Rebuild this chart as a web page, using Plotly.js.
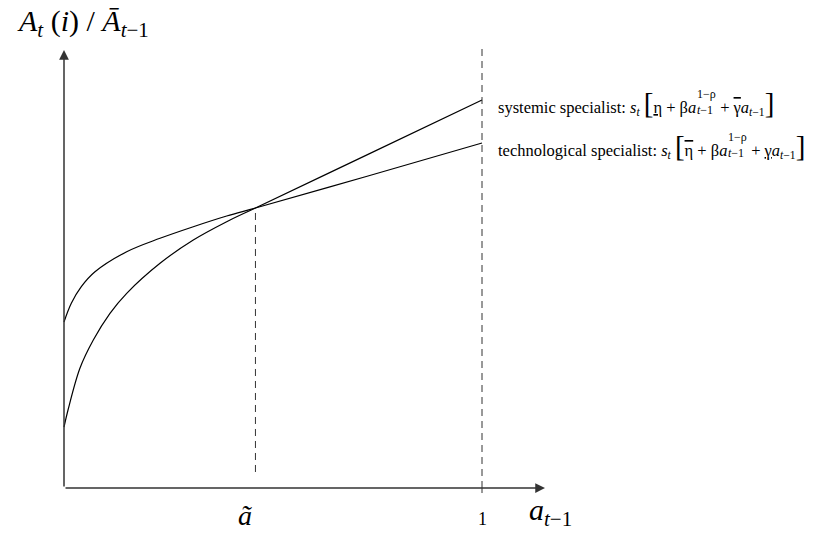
<!DOCTYPE html>
<html>
<head>
<meta charset="utf-8">
<script src="https://cdn.plot.ly/plotly-3.0.1.min.js"></script>
<style>html,body{margin:0;padding:0;background:#fff;}</style>
</head>
<body>
<div id="chart" style="width:820px;height:533px;"></div>
<script>
// ---- data (x in units of a_{t-1}, y relative) ----
const aTilde = 0.458;
const xOne = 1.0;
const techX = [0, 0.0175, 0.0414, 0.0734, 0.150, 0.2297, 0.3093, 0.3892, 0.458, 0.7273, 1.0];
const techY = [0.3971, 0.4419, 0.4816, 0.5167, 0.5653, 0.5974, 0.6251, 0.6507, 0.6699, 0.7464, 0.8254];
const sysX = [0, 0.0096, 0.0383, 0.0701, 0.110, 0.150, 0.2297, 0.3093, 0.3892, 0.458, 0.7273, 1.0];
const sysY = [0.1459, 0.1866, 0.2871, 0.3541, 0.4179, 0.4658, 0.5376, 0.5933, 0.6371, 0.6699, 0.7981, 0.9282];
const xTip = 1.1507, yTip = 1.0478;
const oneTop = 1.0598;
const aTildeBottom = 0.0383;
const seriesLabels = ['systemic specialist:', 'technological specialist:'];

const PX = 418; // pixels per data unit
const serif = "'Liberation Serif', 'Times New Roman', serif";

const traces = [
  {x: sysX, y: sysY, mode: 'lines', line: {color: '#000', width: 1.2, shape: 'spline', smoothing: 1}, hoverinfo: 'skip'},
  {x: techX, y: techY, mode: 'lines', line: {color: '#000', width: 1.2, shape: 'spline', smoothing: 1}, hoverinfo: 'skip'}
];

const shapes = [
  {type: 'line', xref: 'x', yref: 'y', x0: xOne, x1: xOne, y0: 0, y1: oneTop, line: {color: '#333', width: 1, dash: '7px,5px'}},
  {type: 'line', xref: 'x', yref: 'y', x0: xOne, x1: xOne, y0: -0.012, y1: 0, line: {color: '#333', width: 1}},
  {type: 'line', xref: 'x', yref: 'y', x0: aTilde, x1: aTilde, y0: aTildeBottom, y1: techY[8], line: {color: '#333', width: 1, dash: '7px,5px'}}
];

const annotations = [
  {x: xTip, y: 0, ax: 0, ay: 0, axref: 'x', ayref: 'y', xref: 'x', yref: 'y', text: '', showarrow: true, arrowhead: 2, arrowsize: 1.3, arrowwidth: 1.5, arrowcolor: '#333'},
  {x: 0, y: yTip, ax: 0, ay: 0, axref: 'x', ayref: 'y', xref: 'x', yref: 'y', text: '', showarrow: true, arrowhead: 2, arrowsize: 1.3, arrowwidth: 1.5, arrowcolor: '#333'},
  {x: 0.046, y: 1.112, xref: 'x', yref: 'y', showarrow: false, text: '<i>A<sub>t</sub></i> (<i>i</i>) / <i>Ā<sub>t</sub></i><sub>−1</sub>', font: {family: serif, size: 30, color: '#000'}},
  {x: 0.433, y: -0.066, xref: 'x', yref: 'y', showarrow: false, text: '<i>ã</i>', font: {family: serif, size: 28, color: '#000'}},
  {x: xOne, y: -0.075, xref: 'x', yref: 'y', showarrow: false, text: '1', font: {family: serif, size: 18, color: '#000'}},
  {x: 1.164, y: -0.058, xref: 'x', yref: 'y', showarrow: false, text: '<i>a<sub>t</sub></i><sub>−1</sub>', font: {family: serif, size: 30, color: '#000'}}
];

// formula pieces: main part, stacked sup, stacked sub, rest
const fx0 = (497 - 64) / PX;
const lineY = [(488 - 103) / PX, (488 - 146) / PX];
const OV = '<span style="text-decoration:overline">';
const mains = [
  seriesLabels[0] + ' <i>s<sub>t</sub></i> <span style="font-size:29px">[</span><u>η</u> + β<i>a</i>',
  seriesLabels[1] + ' <i>s<sub>t</sub></i> <span style="font-size:29px">[</span>' + OV + 'η</span> + β<i>a</i>'
];
const rests = [
  ' + ' + OV + 'γ</span><i>a<sub>t</sub></i><sub>−1</sub><span style="font-size:29px">]</span>',
  ' + <u>γ</u><i>a<sub>t</sub></i><sub>−1</sub><span style="font-size:29px">]</span>'
];
const pieceIdx = [];
for (let k = 0; k < 2; k++) {
  const base = annotations.length;
  pieceIdx.push(base);
  annotations.push({x: fx0, y: lineY[k], xref: 'x', yref: 'y', xanchor: 'left', showarrow: false, borderpad: 0, text: mains[k], font: {family: serif, size: 16.5, color: '#000'}});
  annotations.push({x: fx0, y: lineY[k] + 9.5 / PX, xref: 'x', yref: 'y', xanchor: 'left', showarrow: false, borderpad: 0, text: '1−ρ', font: {family: serif, size: 12, color: '#000'}});
  annotations.push({x: fx0, y: lineY[k] - 6.5 / PX, xref: 'x', yref: 'y', xanchor: 'left', showarrow: false, borderpad: 0, text: '<i>t</i>−1', font: {family: serif, size: 12, color: '#000'}});
  annotations.push({x: fx0, y: lineY[k], xref: 'x', yref: 'y', xanchor: 'left', showarrow: false, borderpad: 0, text: rests[k], font: {family: serif, size: 16.5, color: '#000'}});
}

const layout = {
  width: 820, height: 533,
  margin: {l: 0, r: 0, t: 0, b: 0},
  paper_bgcolor: '#fff', plot_bgcolor: '#fff',
  showlegend: false,
  xaxis: {range: [-64 / PX, (820 - 64) / PX], visible: false, fixedrange: true},
  yaxis: {range: [-45 / PX, 488 / PX], visible: false, fixedrange: true},
  shapes: shapes,
  annotations: annotations
};

const gd = document.getElementById('chart');
Plotly.newPlot(gd, traces, layout, {displayModeBar: false, staticPlot: true}).then(function () {
  function w(i) {
    const t = gd.querySelector('.annotation[data-index="' + i + '"] .annotation-text');
    return t ? t.getBBox().width : 0;
  }
  const upd = {};
  pieceIdx.forEach(function (b) {
    const xStack = fx0 + (w(b) + 0.5) / PX;
    const xRest = xStack + (Math.max(w(b + 1), w(b + 2)) + 0.5) / PX;
    upd['annotations[' + (b + 1) + '].x'] = xStack;
    upd['annotations[' + (b + 2) + '].x'] = xStack;
    upd['annotations[' + (b + 3) + '].x'] = xRest;
  });
  return Plotly.relayout(gd, upd);
});
</script>
</body>
</html>
